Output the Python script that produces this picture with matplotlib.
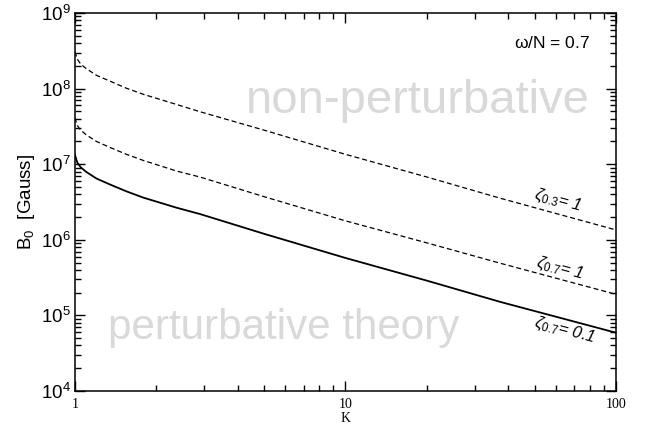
import numpy as np
import matplotlib
matplotlib.use('Agg')
import matplotlib.pyplot as plt
from matplotlib.ticker import LogLocator, NullFormatter, FixedLocator, FixedFormatter

plt.rcParams['font.family'] = ['Liberation Sans', 'DejaVu Sans']
plt.rcParams['mathtext.fontset'] = 'custom'
plt.rcParams['mathtext.rm'] = 'Liberation Sans'
plt.rcParams['mathtext.it'] = 'Liberation Sans:italic'
plt.rcParams['mathtext.default'] = 'regular'

# valeurs
K = [1, 1.02, 1.05, 1.1, 1.2, 1.35, 1.55, 1.79, 2.38, 2.9, 5, 10, 20, 37.3, 100]
zeta03_1 = [3.08e8, 2.45e8, 2.11e8, 1.84e8, 1.5e8, 1.25e8, 1.01e8, 8.4e7, 6.15e7,
            4.94e7, 2.82e7, 1.35e7, 6.76e6, 3.55e6, 1.35e6]
zeta07_1 = [4.12e7, 3.24e7, 2.82e7, 2.45e7, 2.0e7, 1.66e7, 1.35e7, 1.12e7, 8.1e6,
            6.76e6, 3.72e6, 1.78e6, 9.1e5, 4.9e5, 1.9e5]
zeta07_01 = [1.32e7, 1.05e7, 9.1e6, 7.92e6, 6.47e6, 5.37e6, 4.37e6, 3.61e6, 2.65e6,
             2.19e6, 1.20e6, 5.75e5, 2.88e5, 1.51e5, 5.9e4]

xticks = [1, 10, 100]
xlabels = ['1', '10', '100']

fig = plt.figure(figsize=(6.47, 4.30), dpi=100)
ax = fig.add_axes([0.1159, 0.0907, 0.8362, 0.8791])

ax.plot(K, zeta03_1, color='black', lw=0.9, ls=(0, (4, 2.4)))
ax.plot(K, zeta07_1, color='black', lw=0.9, ls=(0, (4, 2.4)))
ax.plot(K, zeta07_01, color='black', lw=1.3)

ax.set_xscale('log')
ax.set_yscale('log')
ax.set_xlim(1, 100)
ax.set_ylim(1e4, 1e9)

ax.xaxis.set_major_locator(FixedLocator(xticks))
ax.xaxis.set_major_formatter(FixedFormatter(xlabels))
ax.xaxis.set_minor_locator(LogLocator(base=10, subs=np.arange(2, 10)))
ax.xaxis.set_minor_formatter(NullFormatter())
ax.yaxis.set_major_locator(LogLocator(base=10, numticks=10))
ax.yaxis.set_minor_locator(LogLocator(base=10, subs=np.arange(2, 10), numticks=10))
ax.yaxis.set_minor_formatter(NullFormatter())

ax.tick_params(which='both', direction='in', top=True, right=True, width=1)
ax.tick_params(which='major', length=7.5)
ax.tick_params(which='minor', length=4)
ax.tick_params(axis='y', labelsize=13.5, pad=3)
ax.tick_params(axis='x', labelsize=10, pad=5)
for t in ax.get_xticklabels():
    t.set_family('Liberation Serif')
for s in ax.spines.values():
    s.set_linewidth(1.1)

ax.set_xlabel('K', family='Liberation Serif', fontsize=10, labelpad=1)
ax.set_ylabel(r'B$_0$  [Gauss]', fontsize=13.5, labelpad=3)

ax.text(0.882, 0.921, r'$\omega$/N = 0.7', transform=ax.transAxes, fontsize=12.5,
        ha='center', va='center')
ax.text(0.634, 0.767, 'non-perturbative', transform=ax.transAxes, fontsize=34,
        color='#d9d9d9', ha='center', va='center')
ax.text(0.385, 0.167, 'perturbative theory', transform=ax.transAxes, fontsize=30.3,
        color='#d9d9d9', ha='center', va='center')

ax.text(0.893, 0.505, r'$\zeta_{\mathit{0.3}}$= 1', transform=ax.transAxes, fontsize=12,
        style='italic', rotation=-15, ha='center', va='center')
ax.text(0.896, 0.325, r'$\zeta_{\mathit{0.7}}$= 1', transform=ax.transAxes, fontsize=12,
        style='italic', rotation=-15, ha='center', va='center')
ax.text(0.904, 0.161, r'$\zeta_{\mathit{0.7}}$= 0.1', transform=ax.transAxes, fontsize=12,
        style='italic', rotation=-15, ha='center', va='center')

fig.savefig('out.png', dpi=100)
